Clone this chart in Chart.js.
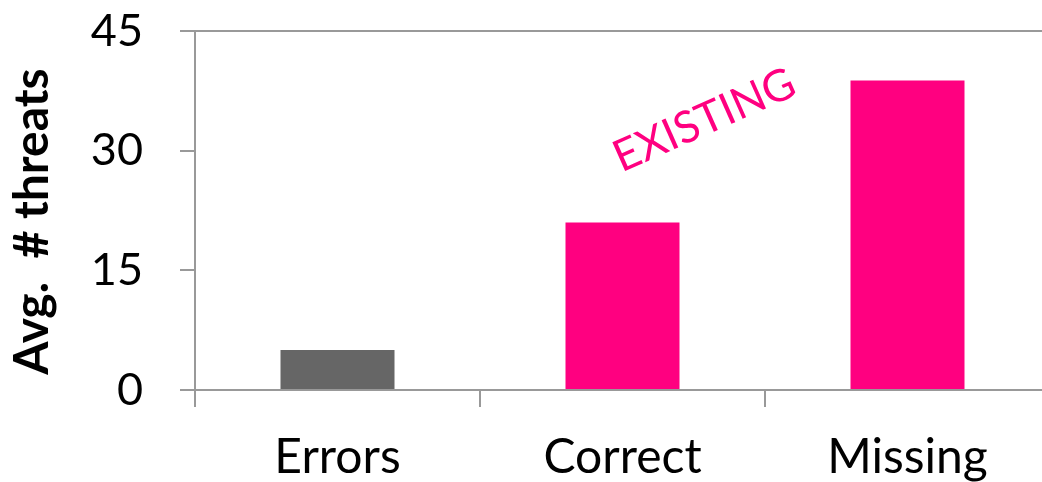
<!DOCTYPE html>
<html>
<head>
<meta charset="utf-8">
<script src="https://cdn.jsdelivr.net/npm/chart.js@4"></script>
<style>
  html, body { margin: 0; padding: 0; background: #fff; overflow: hidden; }
</style>
</head>
<body>
<canvas id="myChart" width="1050" height="482"></canvas>
<script>
// 카테고리와 값
const categories = ["Errors", "Correct", "Missing"];
const threatValues = [5, 21, 38.8];
const barColors = ["#666666", "#ff0080", "#ff0080"];
const yTicks = [0, 15, 30, 45];
const yTitle = "Avg.  # threats";
const noteText = "EXISTING";

const axisGray = "#999999";

// 축 제목과 EXISTING 글자를 직접 그리는 플러그인
const textPlugin = {
    id: 'textPlugin',
    afterDraw(chart) {
        const c = chart.ctx;
        const area = chart.chartArea;
        const xs = chart.scales.x;
        const ys = chart.scales.y;
        c.save();
        // y축 제목
        c.translate(33, (area.top + area.bottom) / 2 + 11);
        c.rotate(-Math.PI / 2);
        c.font = "bold 48px Lato";
        c.fillStyle = "#000";
        c.textAlign = "center";
        c.textBaseline = "middle";
        c.fillText(yTitle, 0, 0);
        c.restore();

        // EXISTING 표시
        c.save();
        c.translate(xs.getPixelForValue(1) + 82, ys.getPixelForValue(33.8));
        c.rotate(-24 * Math.PI / 180);
        c.font = "44px Lato";
        c.fillStyle = "#ff0080";
        c.textAlign = "center";
        c.textBaseline = "middle";
        c.fillText(noteText, 0, 0);
        c.restore();
    }
};

const ctx = document.getElementById('myChart').getContext('2d');
const myChart = new Chart(ctx, {
    type: 'bar',
    data: {
        labels: categories,
        datasets: [{
            data: threatValues,
            backgroundColor: barColors,
            borderWidth: 0,
            categoryPercentage: 1,
            barPercentage: 0.4
        }]
    },
    options: {
        responsive: false,
        animation: false,
        layout: { padding: { top: 31, right: 0, left: 0, bottom: 0 } },
        plugins: {
            legend: { display: false },
            tooltip: { enabled: false }
        },
        scales: {
            x: {
                offset: true,
                afterFit: s => { s.height = 92; s.paddingLeft = 0; s.paddingRight = 0; },
                grid: {
                    offset: true,
                    color: 'transparent',
                    tickColor: axisGray,
                    tickLength: 17,
                    lineWidth: 2
                },
                border: { display: true, color: axisGray, width: 2 },
                ticks: {
                    color: '#000',
                    padding: 22,
                    font: { family: 'Lato', size: 48 }
                }
            },
            y: {
                min: 0,
                max: 45,
                afterFit: s => { s.width = 195; s.paddingTop = 0; s.paddingBottom = 0; },
                afterBuildTicks: s => { s.ticks = yTicks.map(v => ({ value: v })); },
                grid: {
                    color: c => (c.tick && c.tick.value === 45) ? axisGray : 'transparent',
                    tickColor: axisGray,
                    tickLength: 15,
                    lineWidth: 2
                },
                border: { display: true, color: axisGray, width: 2 },
                ticks: {
                    color: '#000',
                    padding: 37,
                    font: { family: 'Lato', size: 45 }
                }
            }
        }
    },
    plugins: [textPlugin]
});
</script>
</body>
</html>
